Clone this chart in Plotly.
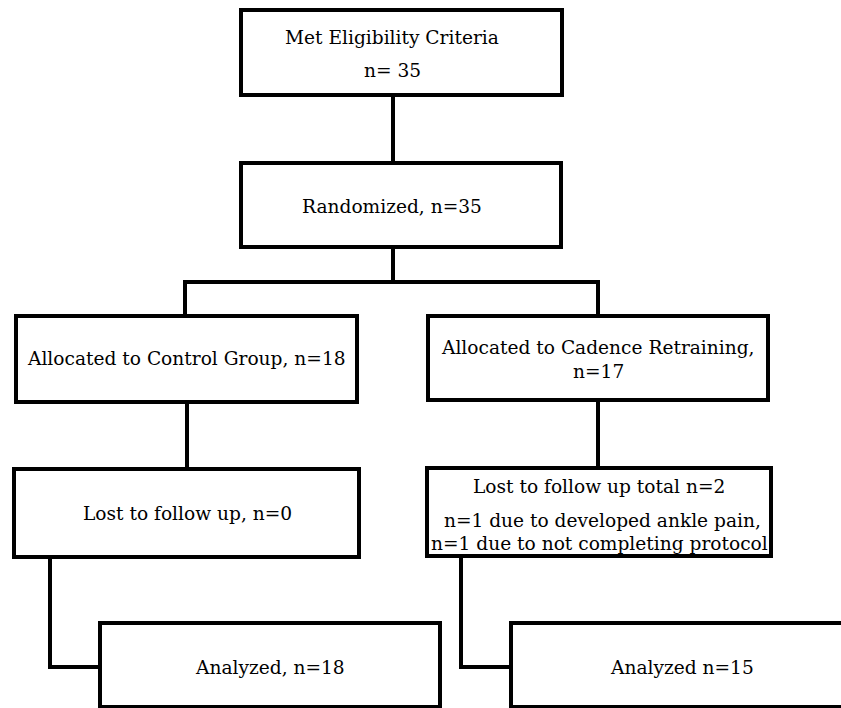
import plotly.graph_objects as go

# ---- content (text data) ----
box_titles = [
    ["Met Eligibility Criteria", "n= 35"],
    ["Randomized, n=35"],
    ["Allocated to Control Group, n=18"],
    ["Allocated to Cadence Retraining,", "n=17"],
    ["Lost to follow up, n=0"],
    ["Lost to follow up total n=2", " n=1 due to developed ankle pain,", "n=1 due to not completing protocol"],
    ["Analyzed, n=18"],
    ["Analyzed n=15"],
]

# ---- layout geometry (pixel space of the 841x708 canvas) ----
box_rects = [
    (241, 10, 562, 95),
    (241, 163, 561, 247),
    (16, 316, 357, 402),
    (428, 316, 768, 400),
    (14, 469, 359, 557),
    (427, 468, 771, 556),
    (100, 623, 440, 707),
    (511, 623, 880, 707),
]
text_x = [392, 392, 186, 598, 187, 599, 270, 682]
text_y = [[37, 70], [206], [358], [347, 371], [513], [486, 520, 543], [667], [667]]

connectors = [
    [(393, 95), (393, 163)],
    [(393, 247), (393, 282)],
    [(185, 316), (185, 282), (598, 282), (598, 316)],
    [(187, 402), (187, 469)],
    [(598, 400), (598, 468)],
    [(50, 557), (50, 667), (100, 667)],
    [(461, 556), (461, 667), (511, 667)],
]

W, H = 841, 708
FONT = "DejaVu Serif"
fig = go.Figure()

shapes = []
for (x0, y0, x1, y1) in box_rects:
    shapes.append(dict(type="rect", xref="x", yref="y", x0=x0, y0=y0, x1=x1, y1=y1,
                       line=dict(color="black", width=4), fillcolor="white", layer="above"))
for pts in connectors:
    path = "M " + " L ".join(f"{x},{y}" for x, y in pts)
    shapes.append(dict(type="path", xref="x", yref="y", path=path,
                       line=dict(color="black", width=4), layer="below"))

annotations = []
for lines, tx, tys in zip(box_titles, text_x, text_y):
    for line, ty in zip(lines, tys):
        annotations.append(dict(x=tx, y=ty, xref="x", yref="y", text=line, showarrow=False,
                                xanchor="center", yanchor="middle",
                                font=dict(family=FONT, size=18.6, color="black")))

fig.update_layout(
    width=W, height=H,
    margin=dict(l=0, r=0, t=0, b=0),
    paper_bgcolor="white", plot_bgcolor="white",
    xaxis=dict(range=[0, W], visible=False, fixedrange=True),
    yaxis=dict(range=[H, 0], visible=False, fixedrange=True),
    shapes=shapes, annotations=annotations, showlegend=False,
)
fig.write_html("out.html", config={"displayModeBar": False},
               post_script="document.body.style.margin='0';document.body.style.overflow='hidden';")
